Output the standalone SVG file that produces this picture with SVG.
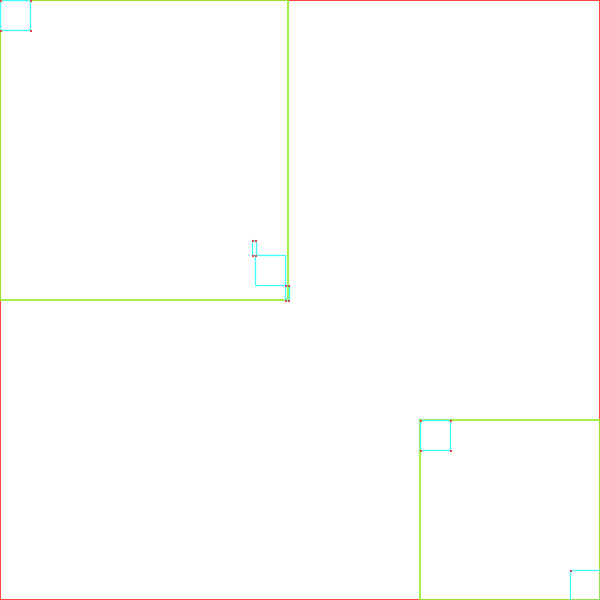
<svg xmlns="http://www.w3.org/2000/svg" width="600" height="600" viewBox="0 0 600 600">
<style>
.bg{fill:#ffffff}
.outer{fill:none;stroke:#ff4444;stroke-width:2}
.green{fill:none;stroke:#99ee33;stroke-width:2;stroke-opacity:0.9}
.cyan{fill:none;stroke:#44ffff;stroke-width:1.3}
.dot{fill:#e04444}
</style>
<rect class="bg" x="0" y="0" width="600" height="600"/>
<g id="root"><rect class="outer" x="0" y="0" width="600" height="600"/></g>
<g id="quad-a"><rect class="green" x="0" y="0" width="288" height="300"/></g>
<g id="quad-b"><rect class="green" x="420" y="420" width="180" height="180"/></g>
<g id="leaf-1"><rect class="cyan" x="0.5" y="0.5" width="30" height="30"/></g>
<g id="leaf-2"><rect class="cyan" x="252.5" y="240.5" width="4" height="15"/></g>
<g id="leaf-3"><rect class="cyan" x="255.5" y="255.5" width="30" height="30"/></g>
<g id="leaf-4"><rect class="cyan" x="285.5" y="285.5" width="4" height="15"/></g>
<g id="leaf-5"><rect class="cyan" x="420.5" y="420.5" width="30" height="30"/></g>
<g id="leaf-6"><rect class="cyan" x="570.5" y="570.5" width="30" height="30"/></g>
<g id="points">
<rect class="dot" x="0" y="0" width="2" height="2"/>
<rect class="dot" x="30" y="0" width="2" height="2"/>
<rect class="dot" x="0" y="30" width="2" height="2"/>
<rect class="dot" x="30" y="30" width="2" height="2"/>
<rect class="dot" x="252" y="240" width="2" height="2"/>
<rect class="dot" x="255" y="240" width="2" height="2"/>
<rect class="dot" x="252" y="255" width="2" height="2"/>
<rect class="dot" x="255" y="255" width="2" height="2"/>
<rect class="dot" x="285" y="285" width="2" height="2"/>
<rect class="dot" x="288" y="285" width="2" height="2"/>
<rect class="dot" x="285" y="300" width="2" height="2"/>
<rect class="dot" x="288" y="300" width="2" height="2"/>
<rect class="dot" x="420" y="420" width="2" height="2"/>
<rect class="dot" x="450" y="420" width="2" height="2"/>
<rect class="dot" x="420" y="450" width="2" height="2"/>
<rect class="dot" x="450" y="450" width="2" height="2"/>
<rect class="dot" x="570" y="570" width="2" height="2"/>
</g>
</svg>
